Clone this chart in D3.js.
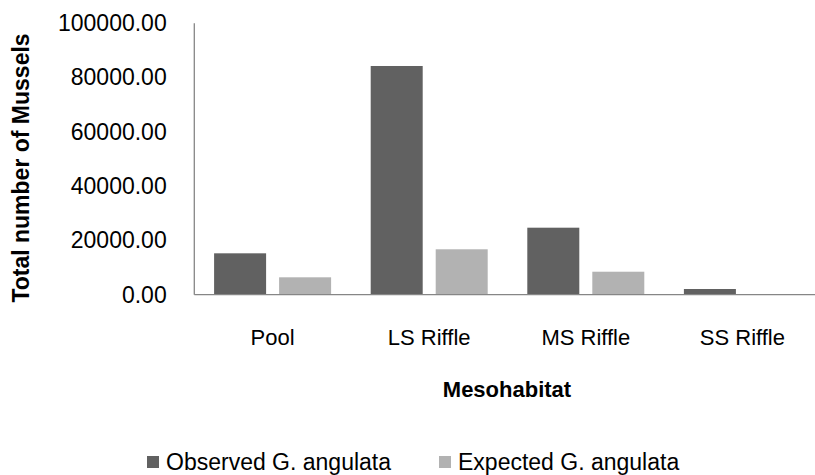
<!DOCTYPE html>
<html lang="en">
<head>
<meta charset="utf-8">
<title>Mesohabitat mussels</title>
<script src="https://cdn.jsdelivr.net/npm/d3@7/dist/d3.min.js"></script>
<style>
  body { margin: 0; background: #fff; }
  text { font-family: "Liberation Sans", Arial, sans-serif; fill: #000; }
</style>
</head>
<body>
<script type="text/javascript">

// data
var categories = ["Pool", "LS Riffle", "MS Riffle", "SS Riffle"];
var seriesNames = ["Observed G. angulata", "Expected G. angulata"];
var observed = [15250, 84270, 24690, 2100];
var expected = [6410, 16730, 8470, 0];
var yTicks = [0, 20000, 40000, 60000, 80000, 100000];

var width = 815;
var height = 475;
var colors = ["#616161", "#b2b2b2"];

// plot area (note: "top" is taken by window.top)
var plotLeft = 194.3, plotTop = 23.3, plotBottom = 294.7;
var step = 156.6;

var svg = d3.select("body").append("svg")
            .attr("width", width)
            .attr("height", height);

var x = d3.scaleBand()
          .domain(categories)
          .range([plotLeft, plotLeft + step * categories.length])
          .padding(0);

var xs = d3.scaleBand()
           .domain(seriesNames)
           .range([0, step])
           .paddingInner(0.2)
           .paddingOuter(0.3046);

var y = d3.scaleLinear()
          .domain([0, 100000])
          .range([plotBottom, plotTop]);

var rows = categories.map(function (c, i) {
  return { cat: c, values: [observed[i], expected[i]] };
});

// bars
var groups = svg.selectAll("g.cat")
   .data(rows)
   .enter()
   .append("g")
   .attr("class", "cat")
   .attr("transform", function (d) { return "translate(" + x(d.cat) + ",0)"; });

groups.selectAll("rect")
   .data(function (d) {
     return d.values.map(function (v, j) { return { s: seriesNames[j], v: v, j: j }; });
   })
   .enter()
   .append("rect")
   .attr("x", function (d) { return xs(d.s); })
   .attr("width", xs.bandwidth())
   .attr("y", function (d) { return y(d.v); })
   .attr("height", function (d) { return plotBottom - y(d.v); })
   .attr("fill", function (d) { return colors[d.j]; });

// y axis (labels only, no ticks)
var yAxis = d3.axisLeft(y)
              .tickValues(yTicks)
              .tickSize(0)
              .tickPadding(27.6)
              .tickFormat(d3.format(".2f"));

var yg = svg.append("g")
   .attr("transform", "translate(" + plotLeft + ",0)")
   .call(yAxis);
yg.select(".domain").remove();
yg.selectAll("text")
  .attr("font-size", 23)
  .attr("font-family", "Liberation Sans, Arial, sans-serif")
  .attr("fill", "#000");

// x axis labels
var xAxis = d3.axisBottom(x).tickSize(0).tickPadding(0);
var xg = svg.append("g")
   .attr("transform", "translate(0," + plotBottom + ")")
   .call(xAxis);
xg.select(".domain").remove();
xg.selectAll("text")
  .attr("dy", null)
  .attr("y", 50.5)
  .attr("font-size", 22)
  .attr("font-family", "Liberation Sans, Arial, sans-serif")
  .attr("fill", "#000");

// axis lines
svg.append("line")
   .attr("x1", plotLeft).attr("x2", plotLeft)
   .attr("y1", plotTop).attr("y2", plotBottom)
   .attr("stroke", "#868686")
   .attr("stroke-width", 1.3);

svg.append("line")
   .attr("x1", plotLeft).attr("x2", width)
   .attr("y1", plotBottom).attr("y2", plotBottom)
   .attr("stroke", "#868686")
   .attr("stroke-width", 1.3);

// axis titles
svg.append("text")
   .attr("x", 507)
   .attr("y", 397)
   .attr("text-anchor", "middle")
   .attr("font-size", 22)
   .attr("font-weight", "bold")
   .text("Mesohabitat");

svg.append("text")
   .attr("transform", "translate(29,168) rotate(-90)")
   .attr("text-anchor", "middle")
   .attr("font-size", 23)
   .attr("font-weight", "bold")
   .text("Total number of Mussels");

// legend
var legendX = [147, 439];
var legend = svg.selectAll("g.legend")
   .data(seriesNames)
   .enter()
   .append("g")
   .attr("class", "legend")
   .attr("transform", function (d, i) { return "translate(" + legendX[i] + ",456)"; });

legend.append("rect")
   .attr("width", 12)
   .attr("height", 12)
   .attr("fill", function (d, i) { return colors[i]; });

legend.append("text")
   .attr("x", 19)
   .attr("y", 14)
   .attr("font-size", 23)
   .text(function (d) { return d; });

</script>
</body>
</html>
